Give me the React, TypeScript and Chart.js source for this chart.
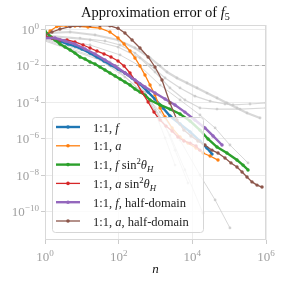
import React, { useEffect, useRef } from 'react';
import { Chart, registerables } from 'chart.js';
Chart.register(...registerables);

const xTicks = [1, 1e2, 1e4, 1e6];
const xTickExps = ['0', '2', '4', '6'];
const yTicks = [1, 1e-2, 1e-4, 1e-6, 1e-8, 1e-10];
const yTickExps = ['0', '\u22122', '\u22124', '\u22126', '\u22128', '\u221210'];
const yMin = 2.75e-12;
const yMax = 1.66;
const threshold = 1e-2;

const blueN = [1, 1.55, 2.55, 4.2, 6.5, 10.1, 16.7, 25.8, 40, 62, 96, 148, 231, 379, 630, 970, 1600, 2470, 4630, 8700, 16100, 25000, 34200];
const blueErr = [0.41, 0.32, 0.22, 0.15, 0.117, 0.08, 0.048, 0.0293, 0.0177, 0.0107, 0.0064, 0.0039, 0.00207, 0.00097, 0.00035, 1.45e-4, 4.7e-5, 1.7e-5, 6.2e-6, 2.3e-6, 7.3e-7, 3.0e-7, 1.4e-7];

const orangeN = [1, 1.37, 2.1, 3.7, 6.5, 14.7, 31, 58, 96, 140, 203, 277, 379, 519, 710, 970, 1330, 1820, 2820, 4630, 7600, 12600, 19400, 30300, 49800];
const orangeErr = [0.365, 0.78, 1.37, 1.55, 1.46, 1.29, 1.13, 0.685, 0.32, 0.15, 0.062, 0.026, 0.0094, 0.003, 8.5e-4, 2.4e-4, 4.7e-5, 1.5e-5, 3.8e-6, 1.2e-6, 5.6e-7, 3.0e-7, 1.6e-7, 1.1e-7, 6.6e-8];

const greenN = [1, 1.37, 1.87, 2.55, 3.5, 4.8, 6.5, 8.9, 12.2, 16.7, 22.8, 31, 42.5, 58, 80, 109, 148, 203, 277, 379, 519, 710, 1330, 2470, 4630, 8700, 16100, 26700, 46800, 87000, 163000, 238000, 325000];
const greenErr = [0.78, 0.41, 0.25, 0.15, 0.103, 0.071, 0.048, 0.0293, 0.0228, 0.0156, 0.0121, 0.0083, 0.0057, 0.0039, 0.00266, 0.00182, 0.00125, 0.00085, 0.00052, 0.00035, 0.00024, 1.29e-4, 6.9e-5, 4.1e-5, 2.2e-5, 9.1e-6, 2.9e-6, 9.4e-7, 3.4e-7, 1.6e-7, 6.6e-8, 3.5e-8, 1.9e-8];

const redN = [1, 1.55, 2.55, 3.95, 6.5, 10.8, 16.7, 25.8, 40, 62, 96, 140, 203, 296, 429, 630, 910, 1330, 1930, 2820, 4070, 5900, 8700, 12600, 16100];
const redErr = [0.41, 0.32, 0.25, 0.25, 0.195, 0.133, 0.091, 0.062, 0.043, 0.0293, 0.0177, 0.0094, 0.0039, 0.00125, 3.5e-4, 1e-4, 2.8e-5, 1.03e-5, 4.8e-6, 2.6e-6, 1.2e-6, 7.3e-7, 5.6e-7, 3.9e-7, 2.3e-7];

const purpleN = [1, 1.87, 3.5, 6.5, 12.2, 22.8, 42.5, 80, 148, 277, 519, 970, 1820, 3390, 6300, 11800, 22000, 36500, 64000];
const purpleErr = [0.32, 0.32, 0.22, 0.15, 0.08, 0.043, 0.02, 0.0094, 0.0039, 0.0016, 6.6e-4, 3.1e-4, 1.45e-4, 6.9e-5, 2.8e-5, 1.03e-5, 3.8e-6, 1.38e-6, 4.4e-7];

const brownN = [1, 1.55, 2.55, 4.8, 8.9, 16.7, 31, 58, 96, 148, 231, 379, 630, 970, 1500, 2470, 3820, 5900, 9200, 14200, 22000, 34200, 49800, 77000, 112000, 163000, 224000, 305000, 417000, 570000, 780000];
const brownErr = [0.47, 0.685, 1.0, 1.35, 1.5, 1.55, 1.55, 1.5, 1.1, 0.6, 0.25, 0.091, 0.0293, 0.0083, 0.0016, 8.9e-5, 1.03e-5, 2.9e-6, 1.38e-6, 7.3e-7, 4.4e-7, 2.3e-7, 1.6e-7, 8.5e-8, 4.6e-8, 2.75e-8, 1.45e-8, 7.8e-9, 4.2e-9, 2.8e-9, 2.2e-9];

const gray1N = [1, 4.8, 22.8, 96, 277, 710, 1330, 2050, 3820, 7170, 13400, 25000, 46800, 87000, 163000, 305000, 689000];
const gray1Err = [0.6, 0.685, 0.47, 0.25, 0.091, 0.026, 0.0094, 0.0044, 0.00207, 0.0011, 5.9e-4, 3.1e-4, 1.66e-4, 8.9e-5, 4.7e-5, 2.5e-5, 1.33e-5];
const gray2N = [1, 8.9, 42.5, 109, 277, 710, 1820, 4630, 11800, 30300, 77000, 127000, 368000, 1e6];
const gray2Err = [0.47, 0.32, 0.22, 0.133, 0.048, 0.0107, 0.00207, 5.9e-4, 2.1e-4, 1.13e-4, 7.8e-5, 6.9e-5, 7.8e-5, 8.9e-5];
const gray3N = [1, 16.7, 96, 379, 970, 2470, 6300, 16100, 46800, 197000, 1e6];
const gray3Err = [0.41, 0.25, 0.103, 0.026, 0.0044, 5.9e-4, 1.29e-4, 4.7e-5, 4.1e-5, 4.1e-5, 4.7e-5];
const gray4N = [1, 16.7, 109, 379, 1330, 4630, 16100, 41500, 105000, 325000];
const gray4Err = [0.365, 0.133, 0.038, 0.0094, 8.5e-4, 1.29e-4, 1.94e-5, 3.8e-6, 4.4e-7, 4.6e-8];
const gray5N = [1, 12.2, 58, 203, 519, 970, 1820, 3390];
const gray5Err = [0.32, 0.071, 0.0156, 0.003, 3.5e-4, 2.8e-5, 1.07e-6, 3.5e-8];
const gray6N = [1, 16.7, 80, 277, 710, 1820, 3390, 7600];
const gray6Err = [0.283, 0.048, 0.0094, 0.00125, 1.29e-4, 5.5e-6, 2.3e-7, 3.6e-9];
const gray7N = [1, 22.8, 109, 379, 970, 2470, 6300, 19400];
const gray7Err = [0.25, 0.0293, 0.0044, 4.6e-4, 3.6e-5, 1.55e-6, 1.9e-8, 8.3e-11];
const gray8N = [1, 31, 148, 519, 1330, 4630, 16100, 41500, 105000];
const gray8Err = [0.22, 0.02, 0.00234, 2.4e-4, 2.8e-5, 8.3e-7, 1e-8, 4.3e-10, 1.26e-11];

type Part = [string, string];
const seriesLabels: Part[][] = [
  [['1:1, ', 'r'], ['f', 'i']],
  [['1:1, ', 'r'], ['a', 'i']],
  [['1:1, ', 'r'], ['f', 'i'], [' sin', 'r'], ['2', 'sup'], ['\u03b8', 'i'], ['H', 'isub']],
  [['1:1, ', 'r'], ['a', 'i'], [' sin', 'r'], ['2', 'sup'], ['\u03b8', 'i'], ['H', 'isub']],
  [['1:1, ', 'r'], ['f', 'i'], [', half-domain', 'r']],
  [['1:1, ', 'r'], ['a', 'i'], [', half-domain', 'r']],
];
const titleParts: Part[] = [['Approximation error of ', 'r'], ['f', 'i'], ['5', 'sub']];
const xLabelParts: Part[] = [['n', 'i']];

const colors = ['#1f77b4', '#ff7f0e', '#2ca02c', '#d62728', '#9467bd', '#8c564b'];
const widths = [2.4, 1.3, 2.4, 1.3, 2.4, 1.3];
const serif = '"Liberation Serif", "DejaVu Serif", serif';

function pts(ns: number[], es: number[]) {
  return ns.map((n, i) => ({ x: n, y: es[i] }));
}

function drawRich(ctx: CanvasRenderingContext2D, parts: Part[], x: number, y: number, size: number, draw = true) {
  let cx = x;
  for (const [t, st] of parts) {
    let fs = size;
    let dy = 0;
    const italic = st.indexOf('i') >= 0;
    if (st.indexOf('sup') >= 0) { fs = size * 0.7; dy = -size * 0.38; }
    if (st.indexOf('sub') >= 0) { fs = size * 0.7; dy = size * 0.22; }
    ctx.font = `${italic ? 'italic ' : ''}${fs}px ${serif}`;
    if (draw) ctx.fillText(t, cx, y + dy);
    cx += ctx.measureText(t).width;
  }
  return cx - x;
}

const decorPlugin = {
  id: 'decor',
  afterDatasetsDraw(chart: any) {
    const ctx = chart.ctx as CanvasRenderingContext2D;
    const a = chart.chartArea;
    const xs = chart.scales.x;
    const ys = chart.scales.y;
    ctx.save();
    ctx.textBaseline = 'alphabetic';
    ctx.textAlign = 'left';
    ctx.strokeStyle = '#d9d9d9';
    ctx.lineWidth = 1;
    ctx.strokeRect(a.left + 0.5, a.top + 0.5, a.right - a.left - 1, a.bottom - a.top - 1);

    const lx = 52, ly = 117, lw = 151, lh = 115;
    ctx.beginPath();
    (ctx as any).roundRect(lx + 0.5, ly + 0.5, lw, lh, 3);
    ctx.fillStyle = 'rgba(255,255,255,0.8)';
    ctx.fill();
    ctx.strokeStyle = '#d6d6d6';
    ctx.lineWidth = 1;
    ctx.stroke();
    seriesLabels.forEach((parts, i) => {
      const yy = 127 + i * 18.8;
      ctx.strokeStyle = colors[i];
      ctx.lineWidth = widths[i];
      ctx.beginPath();
      ctx.moveTo(56, yy);
      ctx.lineTo(80, yy);
      ctx.stroke();
      ctx.fillStyle = colors[i];
      ctx.beginPath();
      ctx.arc(68, yy, 1.8, 0, Math.PI * 2);
      ctx.fill();
      ctx.fillStyle = '#222';
      drawRich(ctx, parts, 93, yy + 4.5, 12.5);
    });

    ctx.fillStyle = '#a0a0a0';
    xTicks.forEach((v, i) => {
      const px = xs.getPixelForValue(v);
      const w = drawRich(ctx, [['10', 'r'], [xTickExps[i], 'sup']], 0, 0, 13, false);
      drawRich(ctx, [['10', 'r'], [xTickExps[i], 'sup']], px - w / 2, 261, 13);
    });
    yTicks.forEach((v, i) => {
      const py = ys.getPixelForValue(v);
      const w = drawRich(ctx, [['10', 'r'], [yTickExps[i], 'sup']], 0, 0, 13, false);
      drawRich(ctx, [['10', 'r'], [yTickExps[i], 'sup']], 39 - w, py + 4.5, 13);
    });

    ctx.fillStyle = '#111';
    const cxm = (a.left + a.right) / 2;
    const tw = drawRich(ctx, titleParts, 0, 0, 14.5, false);
    drawRich(ctx, titleParts, cxm - tw / 2, 17, 14.5);
    const nw = drawRich(ctx, xLabelParts, 0, 0, 13, false);
    drawRich(ctx, xLabelParts, cxm - nw / 2, 273, 13);
    ctx.restore();
  },
};

export default function App() {
  const ref = useRef<HTMLCanvasElement>(null);
  useEffect(() => {
    document.body.style.margin = '0';
    const grayList = [
      [gray1N, gray1Err, 2.2], [gray2N, gray2Err, 1.2], [gray3N, gray3Err, 1.2], [gray4N, gray4Err, 1],
      [gray5N, gray5Err, 1], [gray6N, gray6Err, 1], [gray7N, gray7Err, 1], [gray8N, gray8Err, 1],
    ] as [number[], number[], number][];
    const grayDs = grayList.map(([n, e, w], i) => ({
      data: pts(n, e),
      borderColor: 'rgba(200,200,200,0.7)',
      backgroundColor: 'rgba(200,200,200,0.8)',
      borderWidth: w,
      pointRadius: 1.4,
      pointBorderWidth: 0,
      order: 20 + i,
    }));
    const main = [
      [blueN, blueErr], [orangeN, orangeErr], [greenN, greenErr],
      [redN, redErr], [purpleN, purpleErr], [brownN, brownErr],
    ] as [number[], number[]][];
    const mainDs = main.map(([n, e], i) => ({
      data: pts(n, e),
      borderColor: colors[i],
      backgroundColor: colors[i],
      borderWidth: widths[i],
      pointRadius: 1.7,
      pointBorderWidth: 0,
      order: 5 - i,
    }));
    const dashDs = {
      data: [{ x: xTicks[0], y: threshold }, { x: xTicks[xTicks.length - 1], y: threshold }],
      borderColor: '#a8a8a8',
      borderWidth: 1,
      borderDash: [4, 3],
      pointRadius: 0,
      order: 10,
    };
    const chart = new Chart(ref.current!, {
      type: 'line',
      data: { datasets: [...mainDs, dashDs, ...grayDs] as any },
      options: {
        animation: false,
        responsive: false,
        devicePixelRatio: 1,
        layout: { padding: { left: 0, right: 18, top: 25, bottom: 0 } },
        plugins: { legend: { display: false }, title: { display: false }, tooltip: { enabled: false } },
        scales: {
          x: {
            type: 'logarithmic', min: 1, max: 1e6,
            afterBuildTicks: (s: any) => { s.ticks = xTicks.map((v) => ({ value: v })); },
            afterFit: (s: any) => { s.height = 44; },
            ticks: { display: false },
            grid: { color: '#ececec', lineWidth: 1, drawTicks: true, tickLength: 4, tickColor: '#cccccc' },
            border: { display: false },
          },
          y: {
            type: 'logarithmic', min: yMin, max: yMax,
            afterBuildTicks: (s: any) => { s.ticks = yTicks.map((v) => ({ value: v })); },
            afterFit: (s: any) => { s.width = 45; },
            ticks: { display: false },
            grid: { color: '#ececec', lineWidth: 1, drawTicks: true, tickLength: 4, tickColor: '#cccccc' },
            border: { display: false },
          },
        },
      } as any,
      plugins: [decorPlugin],
    });
    return () => chart.destroy();
  }, []);
  return (
    <canvas ref={ref} width={284} height={284} style={{ display: 'block', width: 284, height: 284 }} />
  );
}
